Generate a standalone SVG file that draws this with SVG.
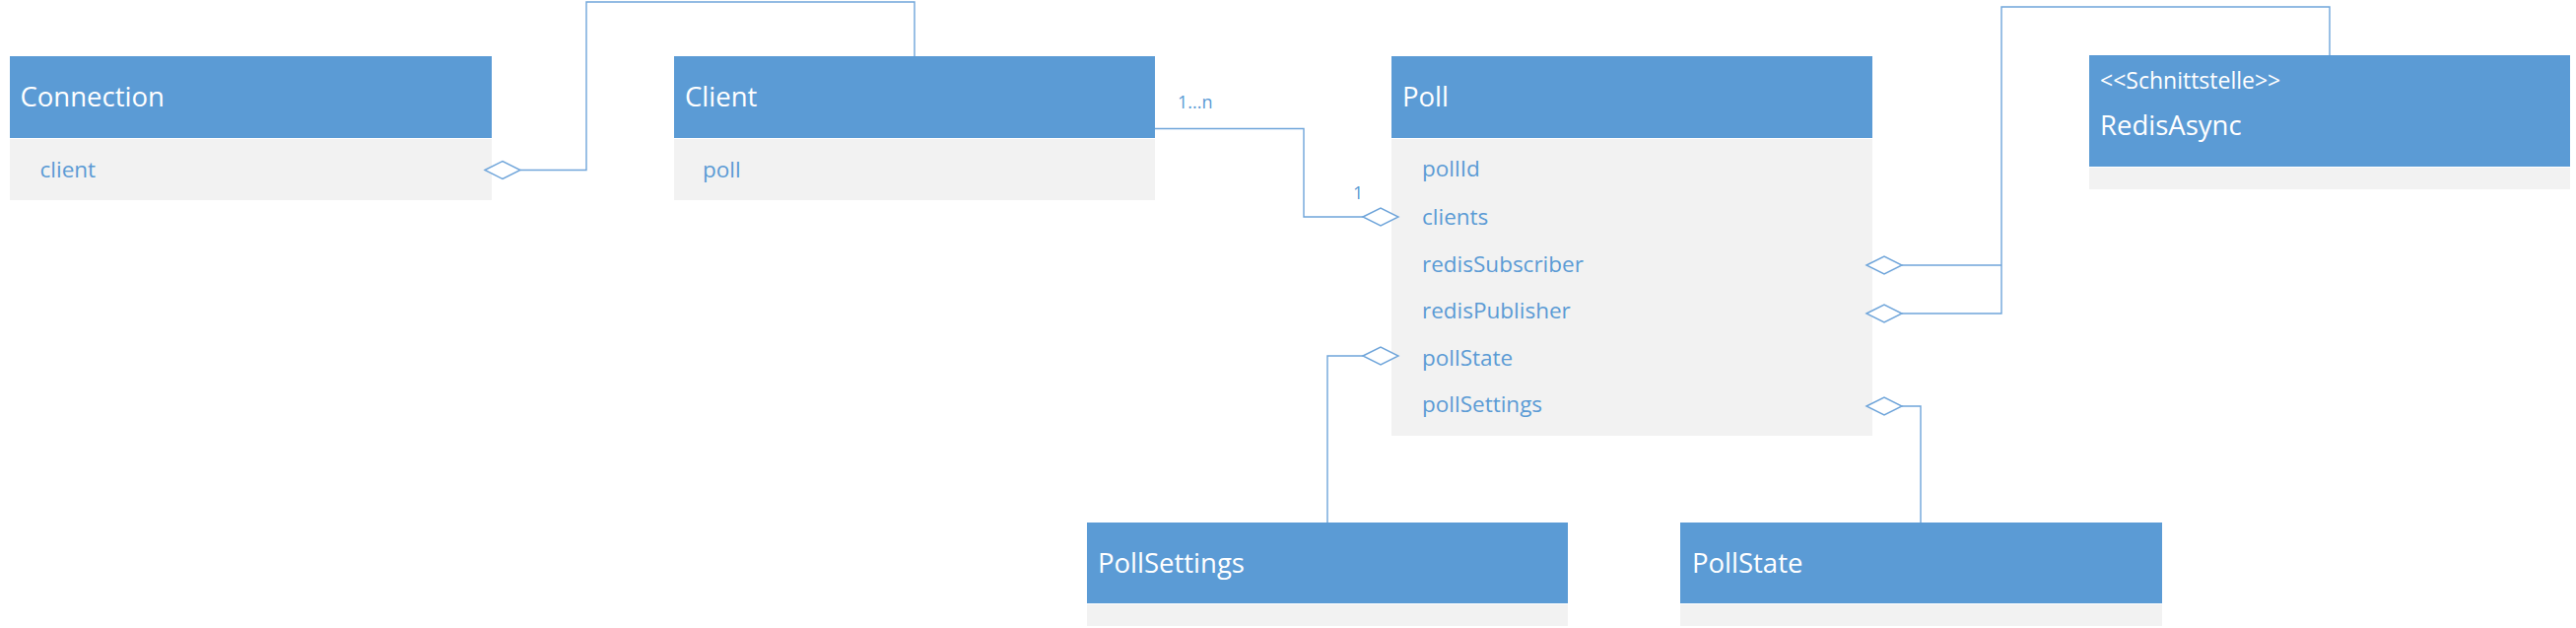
<svg xmlns="http://www.w3.org/2000/svg" width="2614" height="637" viewBox="0 0 2614 637">
<style>
.hdr{fill:#5B9BD5}
.body{fill:#F2F2F2}
.title{font-family:"Open Sans","Liberation Sans",sans-serif;font-size:27.5px;fill:#FFFFFF}
.stereo{font-family:"Open Sans","Liberation Sans",sans-serif;font-size:23px;fill:#FFFFFF}
.attr{font-family:"Open Sans","Liberation Sans",sans-serif;font-size:22.5px;fill:#5B9BD5}
.lbl{font-family:"Open Sans","Liberation Sans",sans-serif;font-size:18px;fill:#5B9BD5}
.conn{fill:none;stroke:#6FA5DA;stroke-width:1.4}
.dia{fill:#FFFFFF;stroke:#6FA5DA;stroke-width:1.4}
</style>
<rect width="2614" height="637" fill="#FFFFFF"/>
<defs>
<polygon id="diamond" points="-18,0 0,-9 18,0 0,9"/>
</defs>

<g id="Connection">
<rect class="hdr" x="10" y="57" width="489" height="83"/>
<rect class="body" x="10" y="141" width="489" height="62"/>
<text class="title" x="20.5" y="108">Connection</text>
<text class="attr" x="40.5" y="180">client</text>
</g>

<g id="Client">
<rect class="hdr" x="684" y="57" width="488" height="83"/>
<rect class="body" x="684" y="141" width="488" height="62"/>
<text class="title" x="695" y="108">Client</text>
<text class="attr" x="713" y="180">poll</text>
</g>

<g id="Poll">
<rect class="hdr" x="1412" y="57" width="488" height="83"/>
<rect class="body" x="1412" y="141" width="488" height="301"/>
<text class="title" x="1423" y="108">Poll</text>
<text class="attr" x="1443" y="179">pollId</text>
<text class="attr" x="1443" y="228">clients</text>
<text class="attr" x="1443" y="276">redisSubscriber</text>
<text class="attr" x="1443" y="323">redisPublisher</text>
<text class="attr" x="1443" y="371">pollState</text>
<text class="attr" x="1443" y="418">pollSettings</text>
</g>

<g id="RedisAsync">
<rect class="hdr" x="2120" y="56" width="488" height="113"/>
<rect class="body" x="2120" y="170" width="488" height="22"/>
<text class="stereo" x="2131" y="90">&lt;&lt;Schnittstelle&gt;&gt;</text>
<text class="title" x="2131" y="137">RedisAsync</text>
</g>

<g id="PollSettings">
<rect class="hdr" x="1103" y="530" width="488" height="82"/>
<rect class="body" x="1103" y="613" width="488" height="22"/>
<text class="title" x="1114" y="581">PollSettings</text>
</g>

<g id="PollState">
<rect class="hdr" x="1705" y="530" width="489" height="82"/>
<rect class="body" x="1705" y="613" width="489" height="22"/>
<text class="title" x="1717" y="581">PollState</text>
</g>

<g id="connectors">
<polyline class="conn" points="928,57 928,2 595,2 595,172.5 528,172.5"/>
<use href="#diamond" class="dia" x="510" y="172.5"/>

<polyline class="conn" points="1172,130.5 1323,130.5 1323,220 1383,220"/>
<use href="#diamond" class="dia" x="1401" y="220"/>
<text class="lbl" x="1195" y="110">1...n</text>
<text class="lbl" x="1373" y="202">1</text>

<polyline class="conn" points="1930,269 2031,269"/>
<polyline class="conn" points="1930,318 2031,318 2031,7 2364,7 2364,56"/>
<use href="#diamond" class="dia" x="1912" y="269"/>
<use href="#diamond" class="dia" x="1912" y="318"/>

<polyline class="conn" points="1383,361 1347,361 1347,530"/>
<use href="#diamond" class="dia" x="1401" y="361"/>

<polyline class="conn" points="1930,412 1949,412 1949,530"/>
<use href="#diamond" class="dia" x="1912" y="412"/>
</g>
</svg>
